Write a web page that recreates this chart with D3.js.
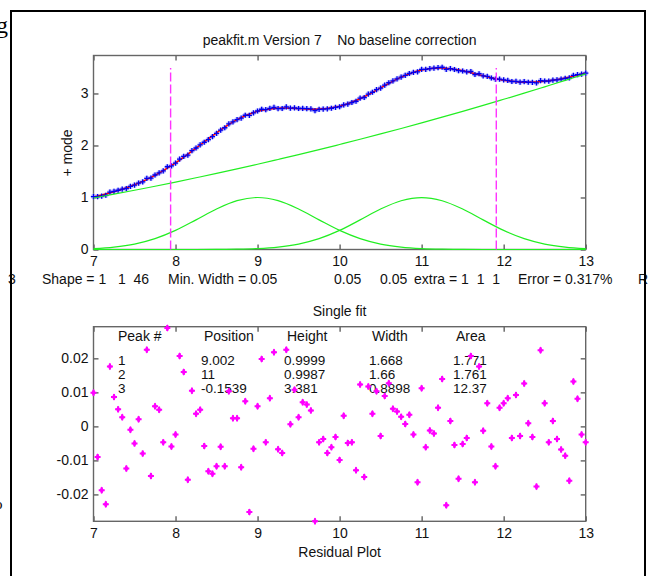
<!DOCTYPE html>
<html><head><meta charset="utf-8">
<script src="https://cdn.jsdelivr.net/npm/d3@7"></script>
<style>
body{margin:0;background:#fff;}
svg text{font-family:"Liberation Sans",Arial,sans-serif;font-size:14px;fill:#111;}
</style>
</head><body>
<svg id="c" width="649" height="576"></svg>
<script>
// ---------- data ----------
const sampleX = [7,7.05,7.1,7.15,7.2,7.25,7.3,7.35,7.4,7.45,7.5,7.55,7.6,7.65,7.7,7.75,7.8,7.85,7.9,7.95,
  8,8.05,8.1,8.15,8.2,8.25,8.3,8.35,8.4,8.45,8.5,8.55,8.6,8.65,8.7,8.75,8.8,8.85,8.9,8.95,
  9,9.05,9.1,9.15,9.2,9.25,9.3,9.35,9.4,9.45,9.5,9.55,9.6,9.65,9.7,9.75,9.8,9.85,9.9,9.95,
  10,10.05,10.1,10.15,10.2,10.25,10.3,10.35,10.4,10.45,10.5,10.55,10.6,10.65,10.7,10.75,10.8,10.85,10.9,10.95,
  11,11.05,11.1,11.15,11.2,11.25,11.3,11.35,11.4,11.45,11.5,11.55,11.6,11.65,11.7,11.75,11.8,11.85,11.9,11.95,
  12,12.05,12.1,12.15,12.2,12.25,12.3,12.35,12.4,12.45,12.5,12.55,12.6,12.65,12.7,12.75,12.8,12.85,12.9,12.95,13];
const signalY = [1.018,1.018,1.027,1.043,1.105,1.119,1.139,1.161,1.173,1.213,1.239,1.278,1.302,1.369,1.371,1.432,1.474,1.510,1.591,1.606,
  1.662,1.739,1.790,1.815,1.900,1.952,2.013,2.062,2.114,2.171,2.232,2.294,2.341,2.414,2.454,2.498,2.525,2.581,2.580,2.627,
  2.663,2.697,2.688,2.713,2.734,2.710,2.711,2.741,2.717,2.723,2.711,2.712,2.708,2.703,2.670,2.695,2.700,2.704,2.716,2.733,
  2.745,2.779,2.797,2.826,2.850,2.911,2.922,2.989,3.023,3.073,3.104,3.159,3.206,3.241,3.280,3.316,3.349,3.384,3.406,3.417,
  3.464,3.463,3.479,3.486,3.497,3.504,3.463,3.479,3.461,3.438,3.432,3.416,3.422,3.365,3.379,3.340,3.329,3.297,3.274,3.275,
  3.262,3.251,3.230,3.234,3.217,3.229,3.216,3.213,3.202,3.248,3.240,3.238,3.256,3.263,3.275,3.289,3.299,3.347,3.361,3.371,3.390];
const residualY = [0.0099,-0.0090,-0.0188,-0.0229,0.0176,0.0086,0.0050,0.0027,-0.0124,-0.0010,-0.0050,0.0021,-0.0080,0.0225,-0.0146,0.0059,0.0049,-0.0047,0.0289,-0.0059,
  -0.0024,0.0207,0.0160,-0.0157,0.0105,0.0037,0.0049,-0.0058,-0.0132,-0.0139,-0.0117,-0.0060,-0.0117,0.0103,0.0024,0.0024,-0.0120,0.0074,-0.0252,-0.0066,
  0.0059,0.0198,-0.0047,0.0083,0.0218,-0.0067,-0.0078,0.0225,0.0006,0.0108,0.0027,0.0071,0.0064,0.0047,-0.0279,-0.0047,-0.0037,-0.0078,-0.0061,-0.0031,
  -0.0099,0.0031,-0.0049,-0.0047,-0.0129,0.0123,-0.0149,0.0117,0.0037,0.0103,-0.0028,0.0089,0.0127,0.0052,0.0044,0.0028,0.0007,0.0034,-0.0024,-0.0164,
  0.0112,-0.0061,-0.0012,-0.0021,0.0055,0.0139,-0.0232,0.0016,-0.0055,-0.0154,-0.0052,-0.0034,0.0207,-0.0164,0.0176,-0.0013,0.0068,-0.0059,-0.0117,0.0055,
  0.0068,0.0083,-0.0034,0.0092,-0.0028,0.0126,0.0009,-0.0031,-0.0177,0.0224,0.0068,-0.0047,0.0016,-0.0037,-0.0068,-0.0086,-0.0160,0.0132,0.0081,-0.0024,-0.0047];

const curveX    = [7,7.25,7.5,7.75,8,8.25,8.5,8.75,9,9.25,9.5,9.75,10,10.25,10.5,10.75,11,11.25,11.5,11.75,12,12.25,12.5,12.75,13];
const fitY      = [1.008,1.110,1.244,1.426,1.664,1.949,2.244,2.496,2.658,2.717,2.709,2.700,2.755,2.899,3.106,3.314,3.453,3.490,3.437,3.341,3.255,3.216,3.233,3.298,3.395];
const baselineY = [0.990,1.063,1.139,1.216,1.296,1.379,1.463,1.550,1.639,1.731,1.824,1.920,2.019,2.119,2.222,2.327,2.435,2.545,2.657,2.771,2.888,3.006,3.128,3.251,3.377];
const peak1Y    = [0.018,0.047,0.105,0.210,0.368,0.570,0.779,0.939,1.000,0.939,0.779,0.570,0.368,0.210,0.105,0.047,0.018,0.006,0.002,0.000,0,0,0,0,0];
const peak2Y    = [0,0,0,0,0,0,0.002,0.006,0.018,0.047,0.105,0.209,0.367,0.569,0.778,0.938,0.999,0.938,0.778,0.569,0.367,0.209,0.105,0.047,0.018];

const xTicks = [7,8,9,10,11,12,13];
const topYTicks = [0,1,2,3];
const topYLim = [0,3.73];
const resYTicks = [-0.02,-0.01,0,0.01,0.02];
const resYTickLabels = ["-0.02","-0.01","0","0.01","0.02"];
const resYLim = [-0.0279,0.0293];
const rangeMarkX = [7.94,11.91];
const rangeMarkY = [0,3.49];

const tableCols = ["Peak #","Position","Height","Width","Area"];
const peakNum   = ["1","2","3"];
const peakPos   = ["9.002","11","-0.1539"];
const peakHt    = ["0.9999","0.9987","3.381"];
const peakWd    = ["1.668","1.66","0.8898"];
const peakArea  = ["1.771","1.761","12.37"];

const titleTop = "peakfit.m Version 7    No baseline correction";
const yLabelTop = "+ mode";
const infoParts = ["3","Shape = 1   1  46","Min. Width = 0.05","0.05","0.05","extra = 1  1  1","Error = 0.317%","R"];
const titleRes = "Single fit";
const xLabelRes = "Residual Plot";

// ---------- layout ----------
const L = 93.5, R = 585.7;
const topT = 55.5, topB = 249.5;
const resT = 326.7, resB = 521.3;

const svg = d3.select("#c");
const x = d3.scaleLinear().domain([7,13]).range([L,R]);
const yTop = d3.scaleLinear().domain(topYLim).range([topB,topT]);
const yRes = d3.scaleLinear().domain(resYLim).range([resB,resT]);

svg.append("text").attr("x",-4).attr("y",33).style("font-family","'Liberation Serif',serif").style("font-size","24px").style("fill","#000").text("g");
svg.append("text").attr("x",-5).attr("y",509).style("font-family","'Liberation Serif',serif").style("font-size","15px").style("fill","#000").text("o");

function drawAxes(yScale, yTicks, yFmt, top, bottom){
  const g = svg.append("g");
  const gb = g.append("g").attr("transform",`translate(0,${bottom})`)
    .call(d3.axisBottom(x).tickValues(xTicks).tickSizeInner(-5).tickSizeOuter(0).tickPadding(7).tickFormat(d3.format("d")));
  const gt = g.append("g").attr("transform",`translate(0,${top})`)
    .call(d3.axisTop(x).tickValues(xTicks).tickSizeInner(-5).tickSizeOuter(0).tickFormat(""));
  const gl = g.append("g").attr("transform",`translate(${L},0)`)
    .call(d3.axisLeft(yScale).tickValues(yTicks).tickSizeInner(-5).tickSizeOuter(0).tickPadding(5).tickFormat(yFmt));
  const gr = g.append("g").attr("transform",`translate(${R},0)`)
    .call(d3.axisRight(yScale).tickValues(yTicks).tickSizeInner(-5).tickSizeOuter(0).tickFormat(""));
  [gb,gt,gl,gr].forEach(a=>{
    a.select(".domain").remove();
    a.attr("font-size",null).attr("font-family",null);
    a.selectAll(".tick line").attr("stroke","#555").attr("stroke-width",1.3);
    a.selectAll(".tick text").style("fill","#111");
  });
  g.append("rect").attr("x",L).attr("y",top).attr("width",R-L).attr("height",bottom-top)
    .attr("fill","none").attr("stroke","#666").attr("stroke-width",1.4);
}

// ---------- top plot ----------
drawAxes(yTop, topYTicks, d3.format("d"), topT, topB);

const pts = sampleX.map((d,i)=>({x:d,y:signalY[i]}));
svg.append("g").selectAll("circle").data(pts).join("circle")
  .attr("cx",d=>x(d.x)).attr("cy",d=>yTop(d.y)).attr("r",2.7).attr("fill","#b4b4ff").attr("opacity",0.8);

const curve = (arr, sc) => d3.line().curve(d3.curveCatmullRom).x((d,i)=>x(curveX[i])).y(d=>sc(d))(arr);
svg.append("path").attr("d",curve(fitY,yTop)).attr("fill","none").attr("stroke","#ff0000").attr("stroke-width",1.5);

svg.append("g").selectAll("path").data(pts).join("path")
  .attr("d",d=>{const cx=x(d.x), cy=yTop(d.y); return `M${cx-2.6},${cy}H${cx+2.6}M${cx},${cy-2.6}V${cy+2.6}`;})
  .attr("stroke","#0000ee").attr("stroke-width",1.3).attr("fill","none");

[baselineY, peak1Y, peak2Y].forEach(arr=>{
  svg.append("path").attr("d",curve(arr,yTop)).attr("fill","none").attr("stroke","#22ee22").attr("stroke-width",1.2);
});

rangeMarkX.forEach(mx=>{
  svg.append("line").attr("x1",x(mx)).attr("x2",x(mx)).attr("y1",yTop(rangeMarkY[0])).attr("y2",yTop(rangeMarkY[1]))
    .attr("stroke","#ff33ff").attr("stroke-width",1.4).attr("stroke-dasharray","9,3");
});

svg.append("text").attr("x",(L+R)/2).attr("y",45).attr("text-anchor","middle").attr("xml:space","preserve").text(titleTop);
svg.append("text").attr("transform",`translate(72,153) rotate(-90)`).attr("text-anchor","middle").text(yLabelTop);

// info line
const infoX = [8,42,168,334,380,414,518,638];
infoParts.forEach((t,i)=>{
  svg.append("text").attr("x",infoX[i]).attr("y",284).attr("xml:space","preserve").text(t);
});

// ---------- residual plot ----------
drawAxes(yRes, resYTicks, (d,i)=>resYTickLabels[i], resT, resB);

svg.append("text").attr("x",(L+R)/2).attr("y",316).attr("text-anchor","middle").text(titleRes);
svg.append("text").attr("x",(L+R)/2).attr("y",557).attr("text-anchor","middle").text(xLabelRes);

// table
const colX = [118,201,284,369,453];
tableCols.forEach((t,i)=>svg.append("text").attr("x",colX[i]+(i===0?0:3)).attr("y",341).text(t));
const rowY = [365,379,393];
[peakNum,peakPos,peakHt,peakWd,peakArea].forEach((col,ci)=>{
  col.forEach((t,ri)=>svg.append("text").attr("x",colX[ci]).attr("y",rowY[ri]).style("font-size","13.5px").text(t));
});

const rpts = sampleX.map((d,i)=>({x:d,y:residualY[i]}));
const g2 = svg.append("g");
g2.selectAll("path.c").data(rpts).join("path").attr("class","c")
  .attr("transform",d=>`translate(${x(d.x)},${yRes(d.y)})`)
  .attr("d",d3.symbol(d3.symbolCross,20)).attr("fill","#ff00ff");
g2.selectAll("path.d").data(rpts).join("path").attr("class","d")
  .attr("transform",d=>`translate(${x(d.x)},${yRes(d.y)})`)
  .attr("d",d3.symbol(d3.symbolDiamond,16)).attr("fill","#ff00ff");

// window frame lines
svg.append("line").attr("x1",11).attr("x2",11).attr("y1",11).attr("y2",576).attr("stroke","#000").attr("stroke-width",2);
svg.append("line").attr("x1",10).attr("x2",646).attr("y1",11).attr("y2",11).attr("stroke","#000").attr("stroke-width",2);
svg.append("line").attr("x1",645).attr("x2",645).attr("y1",10).attr("y2",576).attr("stroke","#000").attr("stroke-width",2);
</script>
</body></html>
